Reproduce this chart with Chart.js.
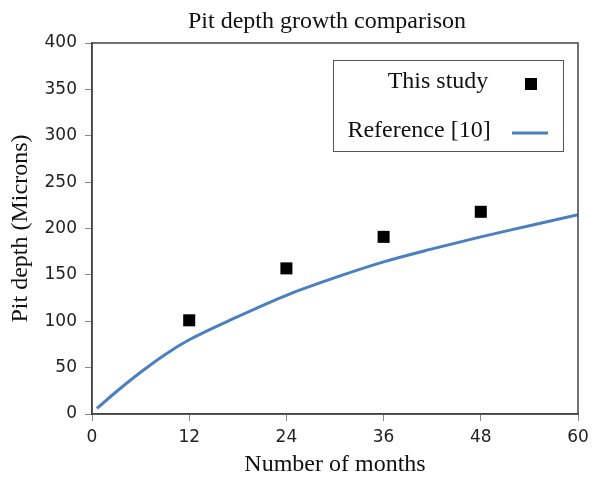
<!DOCTYPE html>
<html>
<head>
<meta charset="utf-8">
<script src="https://cdn.jsdelivr.net/npm/chart.js@4/dist/chart.umd.min.js"></script>
<style>
    html, body { margin: 0; padding: 0; background: #fff; }
    #wrap { width: 592px; height: 477px; }
</style>
</head>
<body>
<div id="wrap"><canvas id="myChart" width="592" height="477"></canvas></div>
<script>
// values
var studyMonths = [12, 24, 36, 48];
var studyDepth = [101, 157, 191, 218];
var refMonths = [0.6, 3, 6, 9, 12, 18, 24, 30, 36, 42, 48, 54, 60];
var refDepth = [6, 24, 45, 64, 80, 105, 128, 147, 164, 178, 191, 203, 215];
var xTicks = [0, 12, 24, 36, 48, 60];
var yTicks = [0, 50, 100, 150, 200, 250, 300, 350, 400];

var serif = '"Liberation Serif", "Times New Roman", serif';
var sans = '"DejaVu Sans", Arial, sans-serif';

function toPoints(xs, ys) {
    return xs.map((x, i) => ({ x: x, y: ys[i] }));
}

// frame round the plot, title and the boxed legend
const decorations = {
    id: 'decorations',
    afterDraw(chart) {
        const ctx = chart.ctx;
        const a = chart.chartArea;
        ctx.save();
        ctx.strokeStyle = '#444';
        ctx.lineWidth = 1.5;
        ctx.strokeRect(a.left, a.top, a.right - a.left, a.bottom - a.top);

        ctx.fillStyle = '#111';
        ctx.font = '24px ' + serif;
        ctx.textAlign = 'center';
        ctx.textBaseline = 'alphabetic';
        ctx.fillText('Pit depth growth comparison', 327, 28);

        // legend
        const ds = chart.data.datasets;
        ctx.strokeStyle = '#555';
        ctx.lineWidth = 1;
        ctx.strokeRect(333.5, 60.5, 230, 91);
        ctx.fillStyle = '#111';
        ctx.fillText(ds[0].label, 438, 88);
        ctx.fillText(ds[1].label, 419, 137);
        ctx.fillStyle = '#000';
        ctx.fillRect(525, 78, 12, 12);
        ctx.strokeStyle = ds[1].borderColor;
        ctx.lineWidth = 3;
        ctx.beginPath();
        ctx.moveTo(512, 133);
        ctx.lineTo(548, 133);
        ctx.stroke();
        ctx.restore();
    }
};

const ctx = document.getElementById('myChart').getContext('2d');
new Chart(ctx, {
    type: 'scatter',
    data: {
        datasets: [{
            label: 'This study',
            data: toPoints(studyMonths, studyDepth),
            pointStyle: 'rect',
            pointRadius: 8.5,
            pointHoverRadius: 8.5,
            backgroundColor: '#000',
            borderColor: '#000',
            borderWidth: 0,
            order: 0
        }, {
            label: 'Reference [10]',
            data: toPoints(refMonths, refDepth),
            showLine: true,
            borderColor: '#4a7fc1',
            borderWidth: 3,
            pointRadius: 0,
            cubicInterpolationMode: 'monotone',
            fill: false,
            order: 1
        }]
    },
    options: {
        responsive: false,
        animation: false,
        layout: { padding: { top: 43, right: 14, left: 0, bottom: 0 } },
        plugins: {
            legend: { display: false },
            title: { display: false },
            tooltip: { enabled: false }
        },
        scales: {
            x: {
                type: 'linear',
                min: 0,
                max: 60,
                afterBuildTicks: axis => { axis.ticks = xTicks.map(v => ({ value: v })); },
                afterFit: axis => { axis.height = 63; axis.paddingRight = 0; },
                border: { display: true, color: '#444', width: 1.5 },
                grid: { display: true, drawOnChartArea: false, tickLength: 7, color: '#888' },
                ticks: { color: '#222', font: { family: sans, size: 17 }, padding: 6, maxRotation: 0 },
                title: { display: true, text: 'Number of months', color: '#111', font: { family: serif, size: 24, lineHeight: 1 }, padding: { top: 0, bottom: 0 } }
            },
            y: {
                min: 0,
                max: 400,
                afterBuildTicks: axis => { axis.ticks = yTicks.map(v => ({ value: v })); },
                afterFit: axis => { axis.width = 92; },
                border: { display: true, color: '#444', width: 1.5 },
                grid: { display: true, drawOnChartArea: false, tickLength: 7, color: '#888' },
                ticks: { color: '#222', font: { family: sans, size: 17 }, padding: 8 },
                title: { display: true, text: 'Pit depth (Microns)', color: '#111', font: { family: serif, size: 24, lineHeight: 1 }, padding: { top: 9, bottom: 0 } }
            }
        }
    },
    plugins: [decorations]
});
</script>
</body>
</html>
